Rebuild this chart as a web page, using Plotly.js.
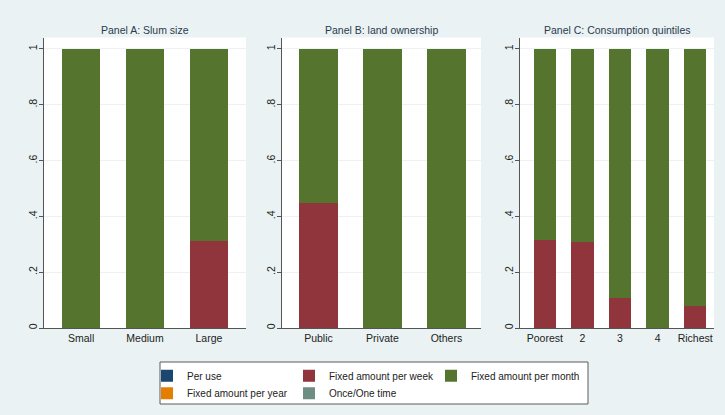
<!DOCTYPE html>
<html>
<head>
<meta charset="utf-8">
<script src="https://cdn.plot.ly/plotly-3.0.1.min.js"></script>
<style>html,body{margin:0;padding:0;background:#eaf2f3;}#chart{width:725px;height:415px;}</style>
</head>
<body>
<div id="chart"></div>
<script>
// ---- data ----
var panelTitles = ['Panel A: Slum size', 'Panel B: land ownership', 'Panel C: Consumption quintiles'];
var catsA = ['Small', 'Medium', 'Large'];
var catsB = ['Public', 'Private', 'Others'];
var catsC = ['Poorest', '2', '3', '4', 'Richest'];

var perUseA = [0, 0, 0];
var weekA = [0, 0, 0.313];
var monthA = [1, 1, 0.687];
var yearA = [0, 0, 0];
var onceA = [0, 0, 0];

var perUseB = [0, 0, 0];
var weekB = [0.447, 0, 0];
var monthB = [0.553, 1, 1];
var yearB = [0, 0, 0];
var onceB = [0, 0, 0];

var perUseC = [0, 0, 0, 0, 0];
var weekC = [0.316, 0.309, 0.107, 0, 0.078];
var monthC = [0.684, 0.691, 0.893, 1, 0.922];
var yearC = [0, 0, 0, 0, 0];
var onceC = [0, 0, 0, 0, 0];

var seriesNames = ['Per use', 'Fixed amount per week', 'Fixed amount per month', 'Fixed amount per year', 'Once/One time'];
var seriesColors = ['#1a476f', '#90353b', '#55752f', '#e37e00', '#6e8e84'];
var yTickVals = [0, 0.2, 0.4, 0.6, 0.8, 1];
var yTickText = ['0', '.2', '.4', '.6', '.8', '1'];

// ---- build ----
var W = 725, H = 415;
var FONT = 'Liberation Sans, Arial, sans-serif';
var panels = [
  {cats: catsA, vals: [perUseA, weekA, monthA, yearA, onceA], x0: 44, x1: 246, padL: 0.58, padR: 0.58},
  {cats: catsB, vals: [perUseB, weekB, monthB, yearB, onceB], x0: 282, x1: 481, padL: 0.57, padR: 0.54},
  {cats: catsC, vals: [perUseC, weekC, monthC, yearC, onceC], x0: 520, x1: 714, padL: 0.66, padR: 0.5}
];
// one legend per cell of the 3-column legend grid
var legendOf = ['legend', 'legend2', 'legend3', 'legend4', 'legend5'];
var legendPos = [[147, 375.7], [289, 375.7], [431, 375.7], [147, 393.3], [289, 393.3]];
var plotTop = 37.5, plotBot = 328;

function legendBox(xpx, ypx) {
  return {
    orientation: 'h', x: xpx / W, xanchor: 'left', y: (H - ypx) / H, yanchor: 'middle',
    bgcolor: 'rgba(0,0,0,0)', borderwidth: 0,
    font: {family: FONT, size: 10, color: '#222'}, traceorder: 'normal'
  };
}

var data = [];
var layout = {
  width: W, height: H,
  margin: {l: 0, r: 0, t: 0, b: 0},
  paper_bgcolor: '#eaf2f3',
  plot_bgcolor: '#ffffff',
  barmode: 'stack',
  font: {family: FONT, size: 10.5, color: '#222'},
  showlegend: true,
  annotations: [],
  shapes: [{
    type: 'rect', xref: 'paper', yref: 'paper',
    x0: 160 / W, x1: 588 / W, y0: (H - 404) / H, y1: (H - 362) / H,
    fillcolor: '#ffffff', line: {color: '#5a5a5a', width: 1}, layer: 'below'
  }]
};
legendOf.forEach(function (lg, s) {
  layout[lg] = legendBox(legendPos[s][0], legendPos[s][1]);
});

panels.forEach(function (p, i) {
  var n = i === 0 ? '' : String(i + 1);
  var xa = 'x' + n, ya = 'y' + n;
  var n_c = p.cats.length;
  p.vals.forEach(function (v, s) {
    data.push({
      type: 'bar', x: p.cats, y: v, xaxis: xa, yaxis: ya,
      name: seriesNames[s], legendgroup: seriesNames[s],
      legend: legendOf[s],
      showlegend: i === 0,
      width: 0.6,
      marker: {color: seriesColors[s], line: {width: 0}},
      hoverinfo: 'x+y+name'
    });
  });
  layout['xaxis' + n] = {
    domain: [p.x0 / W, p.x1 / W], anchor: ya, type: 'category',
    range: [-p.padL, n_c - 1 + p.padR],
    showline: true, linecolor: '#555', linewidth: 1, ticks: '', showgrid: false,
    zeroline: false, tickfont: {family: FONT, size: 10.5, color: '#222'}, fixedrange: true
  };
  layout['yaxis' + n] = {
    domain: [(H - plotBot) / H, (H - plotTop) / H], anchor: xa,
    range: [0, 1.041], tickvals: yTickVals, ticktext: yTickText, tickangle: -90,
    showline: true, linecolor: '#555', linewidth: 1, ticks: 'outside', ticklen: 4, tickcolor: '#555',
    ticklabelstandoff: -2,
    showgrid: true, gridcolor: '#eaf2f3', gridwidth: 1, zeroline: false,
    tickfont: {family: FONT, size: 10.5, color: '#222'}, fixedrange: true
  };
  layout.annotations.push({
    text: panelTitles[i], xref: 'paper', yref: 'paper',
    x: (p.x0 + p.x1) / 2 / W, y: (H - 30) / H, xanchor: 'center', yanchor: 'middle',
    showarrow: false, font: {family: FONT, size: 10.5, color: '#2a3b4f'}
  });
});

Plotly.newPlot('chart', data, layout, {displayModeBar: false, staticPlot: true});
</script>
</body>
</html>
